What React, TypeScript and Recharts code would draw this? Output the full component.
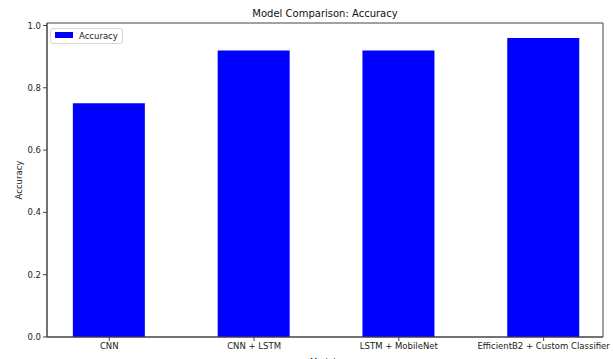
import React from 'react';
import { BarChart, Bar, XAxis, YAxis, ReferenceArea, Label } from 'recharts';

const models = ['CNN', 'CNN + LSTM', 'LSTM + MobileNet', 'EfficientB2 + Custom Classifier'];
const accuracy = [0.75, 0.92, 0.92, 0.96];
const yTicks = [0, 0.2, 0.4, 0.6, 0.8, 1.0];

const data = models.map((name, i) => ({ idx: i, name, accuracy: accuracy[i] }));

const font = 'DejaVu Sans, sans-serif';
const axisColor = '#444';
const xDomain = [-0.43, 3.41];
const yDomain = [0, 1.008];

const App = () => {
  return (
    <div style={{ position: 'absolute', left: 0, top: 0, background: '#fff' }}>
      <BarChart width={613} height={359} data={data} margin={{ top: 23, right: 10, bottom: 0, left: 11 }}>
        <text x={325} y={17} textAnchor='middle' fontFamily={font} fontSize={10} fill='#111'>
          Model Comparison: Accuracy
        </text>
        <XAxis
          dataKey='idx'
          type='number'
          domain={xDomain}
          ticks={[0, 1, 2, 3]}
          tickFormatter={(v: number) => models[v]}
          allowDataOverflow
          height={22}
          tickSize={4}
          tick={{ fontFamily: font, fontSize: 8.5, fill: '#222' }}
          stroke={axisColor}
          interval={0}
        >
          <Label value='Models' position='insideBottom' offset={-6} style={{ fontFamily: font, fontSize: 8.5, fill: '#222' }} />
        </XAxis>
        <YAxis
          type='number'
          domain={yDomain}
          ticks={yTicks}
          tickFormatter={(v: number) => v.toFixed(1)}
          allowDataOverflow
          width={36}
          tickSize={4}
          tick={{ fontFamily: font, fontSize: 8.5, fill: '#222' }}
          stroke={axisColor}
        >
          <Label value='Accuracy' angle={-90} position='insideLeft' offset={8} style={{ fontFamily: font, fontSize: 8.5, fill: '#222', textAnchor: 'middle' }} />
        </YAxis>
        <ReferenceArea x1={xDomain[0]} x2={xDomain[1]} y1={yDomain[0]} y2={yDomain[1]} fill='none' stroke={axisColor} strokeWidth={1} ifOverflow='visible' />
        <Bar dataKey='accuracy' name='Accuracy' fill='#0000ff' barSize={72} isAnimationActive={false} />
        <g>
          <rect x={50.5} y={28.5} width={72} height={15} rx={2} fill='#fff' fillOpacity={0.8} stroke='#d6d6d6' />
          <rect x={55} y={32} width={18} height={6} fill='#0000ff' />
          <text x={79} y={38.5} fontFamily={font} fontSize={8.5} fill='#222'>
            Accuracy
          </text>
        </g>
      </BarChart>
    </div>
  );
};

export default App;
